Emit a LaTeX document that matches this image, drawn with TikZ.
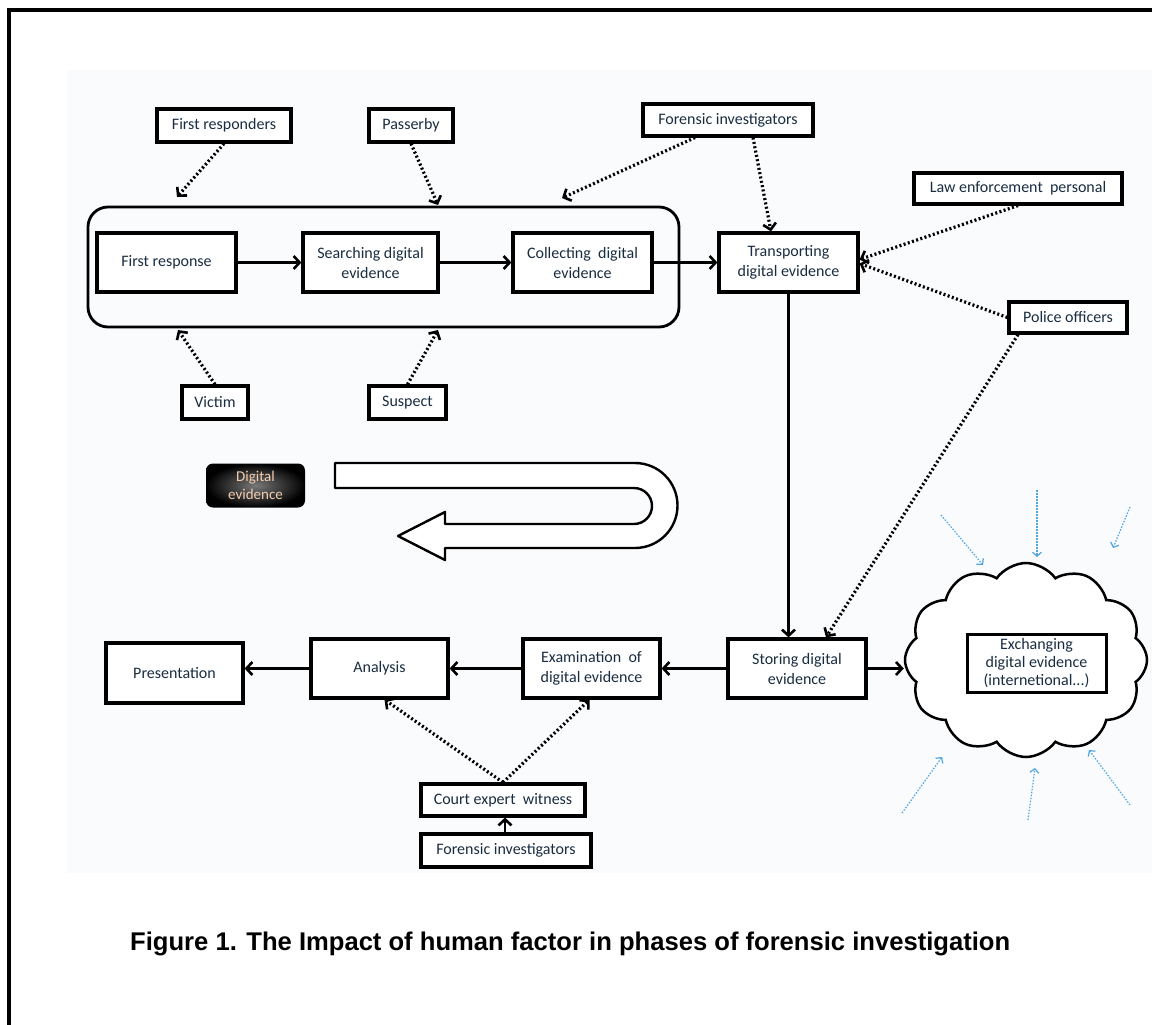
\documentclass[tikz,border=0pt]{standalone}
\usepackage{fontspec}
\usetikzlibrary{arrows.meta,shapes.symbols,calc}
\newfontfamily\carl{Carlito}
\newfontfamily\capfont{Liberation Sans}
\definecolor{txt}{RGB}{25,45,65}
\definecolor{bgc}{RGB}{250,251,253}
\definecolor{blu}{RGB}{80,165,225}
\definecolor{peach}{RGB}{245,205,175}
\begin{document}
\begin{tikzpicture}[x=1pt,y=-1pt,
 box/.style={draw, line width=3.2pt, fill=white, align=center, text=txt, font=\carl\fontsize{16}{20}\selectfont, inner sep=0pt},
 sarr/.style={line width=2.6pt, -{Straight Barb[length=6pt,width=13pt]}},
 darr/.style={line width=3.2pt, dash pattern=on 2pt off 2.4pt, -{Straight Barb[length=6pt,width=13pt,line width=2.6pt]}},
 barr/.style={blu, line width=1.2pt, dash pattern=on 1.5pt off 1.5pt, -{Straight Barb[length=4pt,width=9pt]}},
]
\useasboundingbox (0,0) rectangle (1152,1025);
\fill[white] (0,0) rectangle (1152,1025);
\fill[bgc] (67,70) rectangle (1152,873);
\draw[line width=4pt] (8.5,1025) -- (8.5,10.5) -- (1152,10.5);

% group box
\node[draw, line width=2.8pt, rounded corners=20pt, minimum width=591pt, minimum height=120pt, inner sep=0pt] (grp) at (383.5,267) {};

% top actors
\node[box, minimum width=134pt, minimum height=33pt] (fr) at (224,125.5) {First responders};
\node[box, minimum width=84pt, minimum height=33pt] (pb) at (411,125.5) {Passerby};
\node[box, minimum width=170pt, minimum height=32pt] (fi) at (728,120) {Forensic investigators};
\node[box, minimum width=208pt, minimum height=31pt] (le) at (1018,188.5) {Law enforcement\ \ personal};
\node[box, minimum width=118pt, minimum height=31pt] (po) at (1068,317.5) {Police officers};
\node[box, minimum width=66pt, minimum height=33pt] (vic) at (215,402.5) {Victim};
\node[box, minimum width=77pt, minimum height=33pt] (sus) at (407.5,402.5) {Suspect};

% phases
\node[box, minimum width=139pt, minimum height=59pt] (first) at (166.5,262.5) {First response};
\node[box, minimum width=135pt, minimum height=59pt] (srch) at (370.5,262.5) {Searching digital\\evidence};
\node[box, minimum width=139pt, minimum height=59pt] (coll) at (582.5,262.5) {Collecting\ \ digital\\evidence};
\node[box, minimum width=139pt, minimum height=59pt] (tr) at (788.5,262.5) {Transporting\\digital evidence};

\node[box, minimum width=138pt, minimum height=59pt] (st) at (797,668.5) {Storing digital\\evidence};
\node[box, minimum width=137pt, minimum height=59pt] (exa) at (591.5,668.5) {Examination\ \ of\\digital evidence};
\node[box, minimum width=137pt, minimum height=59pt] (ana) at (379.5,668.5) {Analysis};
\node[box, minimum width=137pt, minimum height=60pt] (pres) at (174.5,673) {Presentation};
\node[box, minimum width=164pt, minimum height=32pt] (court) at (503,800) {Court expert\ \ witness};
\node[box, minimum width=170pt, minimum height=33pt] (fib) at (506,850.5) {Forensic investigators};

% digital evidence badge
\node[rounded corners=7pt, inner color={rgb,255:red,120;green,120;blue,120}, outer color=black, minimum width=99pt, minimum height=44pt, inner sep=0pt, align=center, text=peach, font=\carl\fontsize{15}{18}\selectfont] (dig) at (255.5,485.5) {Digital\\evidence};

% U-shaped block arrow
\draw[line width=2.4pt, line join=round, fill=white] (335,463) -- (635,463) arc[start angle=-90, end angle=90, radius=42.5]
  -- (445,548) -- (445,560) -- (398,536) -- (445,512) -- (445,524) -- (634,524)
  arc[start angle=90, end angle=-90, radius=18] -- (335,488) -- cycle;

% cloud
\node[cloud, draw, line width=2.5pt, fill=white, cloud puffs=12, cloud puff arc=110, cloud ignores aspect, minimum width=242pt, minimum height=194pt] (cloud) at (1026,660) {};
\node[box, fill=none, line width=3pt, minimum width=139pt, minimum height=58pt, font=\carl\fontsize{16}{18}\selectfont] (ex) at (1036.5,663) {Exchanging\\digital evidence\\(internetional...)};

% coordinates
\coordinate (t1) at (177,197);
\coordinate (t2) at (438,205);
\coordinate (t3) at (562,198);
\coordinate (t4) at (178,330);
\coordinate (t5) at (438,330);

% solid arrows
\draw[sarr] (first) -- (srch);
\draw[sarr] (srch) -- (coll);
\draw[sarr] (coll) -- (tr);
\draw[sarr] (tr.south) -- (tr.south |- st.north);
\draw[sarr] (st) -- (exa);
\draw[sarr] (exa) -- (ana);
\draw[sarr] (ana.west) -- (ana.west -| pres.east);
\draw[sarr] (st.east) -- (st.east -| cloud.west);
\draw[sarr] (fib.north -| 505,0) -- (court.south -| 505,0);

% dotted arrows
\draw[darr] (fr.south) -- (t1);
\draw[darr] (pb.south) -- (t2);
\draw[darr] ([xshift=-33pt]fi.south) -- (t3);
\draw[darr] ([xshift=25pt]fi.south) -- (tr.north -| 771,0);
\draw[darr] (le.south) -- ([yshift=3pt]tr.east);
\draw[darr] (po.west) -- ([yshift=-1pt]tr.east);
\draw[darr] ([xshift=-50pt]po.south) -- ([xshift=29pt]st.north);
\draw[darr] (vic.north) -- (t4);
\draw[darr] (sus.north) -- (t5);
\draw[darr] (court.north) -- ([xshift=5pt]ana.south);
\draw[darr] (court.north) -- ([xshift=-2pt]exa.south);

% blue arrows around cloud
\coordinate (b1s) at (941,515); \coordinate (b1e) at (983,565);
\coordinate (b2s) at (1037,490); \coordinate (b2e) at (1037,557);
\coordinate (b3s) at (1130,507); \coordinate (b3e) at (1113,548);
\coordinate (b4s) at (902,813); \coordinate (b4e) at (942,757);
\coordinate (b5s) at (1028,820); \coordinate (b5e) at (1035,768);
\coordinate (b6s) at (1130,805); \coordinate (b6e) at (1089,750);
\draw[barr] (b1s) -- (b1e);
\draw[barr] (b2s) -- (b2e);
\draw[barr] (b3s) -- (b3e);
\draw[barr] (b4s) -- (b4e);
\draw[barr] (b5s) -- (b5e);
\draw[barr] (b6s) -- (b6e);

% caption
\node[anchor=base west, inner sep=0pt, font=\capfont\bfseries\fontsize{25.6}{30}\selectfont] (cap) at (130,950) {Figure 1. The Impact of human factor in phases of forensic investigation};
\end{tikzpicture}
\end{document}
